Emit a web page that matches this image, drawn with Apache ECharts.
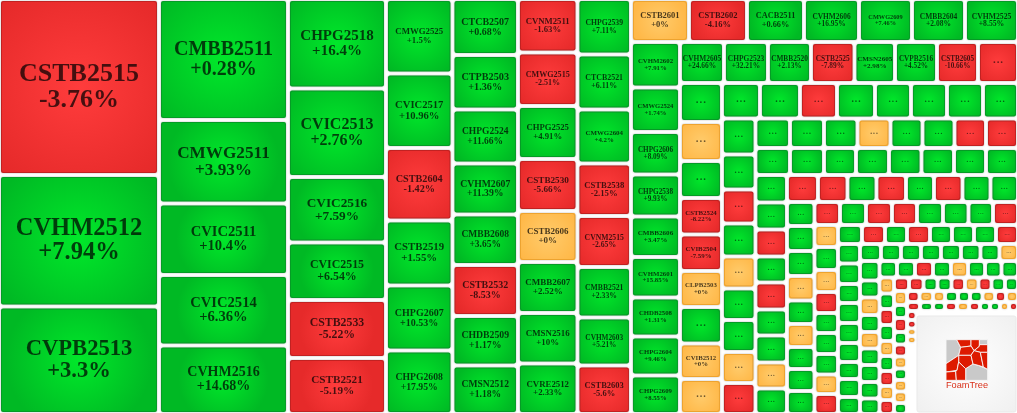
<!DOCTYPE html>
<html><head><meta charset="utf-8">
<style>html,body{margin:0;padding:0;background:#fff}#chart{width:1017px;height:413px}</style>
<script src="https://cdn.jsdelivr.net/npm/echarts@6/dist/echarts.min.js"></script>
</head><body><div id="chart"></div>
<script>
// Cell tone per strip: g = up, r = down, o = unchanged, _ = empty
const tones = ['rgg','ggggg','ggggrr','ggrggg','gggggrgg','rrgroggg','gggrrggr','orggggg','ggggggggg','gggrggrr','gogrrogoo','ggrggggg','ggrgoggor','gggoggrr','gggggggg','ggrgrggog','rrgrgrgg','gggogoggg','rgrrgggr','ogorgggor','grgrgggr','ggggggggg','gggggggo','ggogogggg','ggrgoggg','ogrgogror','rrggrorgg','ogrgrogoog','roogggoro','rggrorggor','rroo_'];
// Names per strip; null or missing = label collapsed to "..."
const names = [
 ['CSTB2515','CVHM2512','CVPB2513'],
 ['CMBB2511','CMWG2511','CVIC2511','CVIC2514','CVHM2516'],
 ['CHPG2518','CVIC2513','CVIC2516','CVIC2515','CSTB2533','CSTB2521'],
 ['CMWG2525','CVIC2517','CSTB2604','CSTB2519','CHPG2607','CHPG2608'],
 ['CTCB2507','CTPB2503','CHPG2524','CVHM2607','CMBB2608','CSTB2532','CHDB2509','CMSN2512'],
 ['CVNM2511','CMWG2515','CHPG2525','CSTB2530','CSTB2606','CMBB2607','CMSN2516','CVRE2512'],
 ['CHPG2539','CTCB2521','CMWG2604','CSTB2538','CVNM2515','CMBB2521','CVHM2603','CSTB2603'],
 ['CSTB2601','CSTB2602','CACB2511','CVHM2606','CMWG2609','CMBB2604','CVHM2525'],
 ['CVHM2602','CMWG2524','CHPG2606','CHPG2538','CMBB2606','CVHM2601','CHDB2508','CHPG2604','CHPG2609'],
 ['CVHM2605','CHPG2523','CMBB2520','CSTB2525','CMSN2605','CVPB2516','CSTB2605'],
 [null,null,null,'CSTB2524','CVIB2504','CLPB2503',null,'CVIB2512']
];
const changes = [
 ['-3.76%','+7.94%','+3.3%'],
 ['+0.28%','+3.93%','+10.4%','+6.36%','+14.68%'],
 ['+16.4%','+2.76%','+7.59%','+6.54%','-5.22%','-5.19%'],
 ['+1.5%','+10.96%','-1.42%','+1.55%','+10.53%','+17.95%'],
 ['+0.68%','+1.36%','+11.66%','+11.39%','+3.65%','-8.53%','+1.17%','+1.18%'],
 ['-1.63%','-2.51%','+4.91%','-5.66%','+0%','+2.52%','+10%','+2.33%'],
 ['+7.11%','+6.11%','+4.2%','-2.15%','-2.65%','+2.33%','+5.21%','-5.6%'],
 ['+0%','-4.16%','+0.66%','+16.95%','+7.46%','+2.08%','+8.55%'],
 ['+7.91%','+1.74%','+8.09%','+9.93%','+3.47%','+15.85%','+1.31%','+9.46%','+8.55%'],
 ['+24.66%','+32.21%','+2.13%','-7.89%','+2.98%','+4.52%','-10.66%'],
 [null,null,null,'-8.22%','-7.59%','+0%',null,'+0%']
];
// Cell weights (estimated tile area) per strip
const weights = [
 [28160,21040,17200],
 [15609,10772,9224,9095,8837],
 [8771,8673,6419,5635,5684,5488],
 [4954,4954,4821,4323,4323,4223],
 [3668,3570,3537,3341,3308,3341,3242,3177],
 [3183,3183,3154,3094,3035,3035,3005,3005],
 [2969,2943,2889,2809,2729,2702,2568,2595],
 [2494,2494,2451,2365,2279,2279,2279],
 [2230,2181,2083,2058,1985,1985,1911,1911,1887],
 [1804,1804,1763,1784,1661,1722,1681,1640],
 [1638,1638,1554,1533,1533,1512,1533,1491,1470],
 [1349,1420,1314,1349,1278,1278,1278,1243],
 [1206,1173,1139,1106,1072,1055,1072,1039,1039],
 [1018,1003,988,974,944,944,929,944],
 [932,918,864,891,878,878,864,864],
 [866,851,851,819,851,819,851,819,803],
 [837,797,783,797,756,770,756,743],
 [660,688,688,674,646,633,605,605,633],
 [587,598,598,575,598,587,564,575],
 [517,541,517,494,470,494,482,458,470],
 [456,437,418,437,418,418,418,418],
 [429,451,418,440,440,418,374,396,374],
 [357,340,340,340,340,332,323,315],
 [380,332,341,332,322,322,332,322,302],
 [289,297,297,297,281,281,272,272],
 [232,225,232,232,218,218,218,203,203],
 [203,196,189,189,182,182,176,182,176],
 [182,169,182,163,156,156,150,150,150,143],
 [138,149,132,143,132,138,138,121,132],
 [117,117,108,108,108,99,90,90,81,81],
 [86,81,71,76,665]
];
const logoAreaWeight = 10454;

// ---- styles ----
const labelPx = {CSTB2515:26,CVHM2512:24.5,CVPB2513:22.6,CMBB2511:20,CMWG2511:17.2,CVIC2511:14.6,CVIC2514:14.6,CVHM2516:14,CHPG2518:15,CVIC2513:16,CVIC2516:13.3,CVIC2515:11.9,CSTB2533:11.8,CSTB2521:11.2,
 CMWG2525:8.8,CVIC2517:10.6,CSTB2604:10.2,CSTB2519:10.8,CHPG2607:10,CHPG2608:9.7,CTCB2507:10,CTPB2503:10.2,CHPG2524:9.5,CVHM2607:9.7,CMBB2608:9.5,CSTB2532:10,CHDB2509:9.75,CMSN2512:9.6,
 CVNM2511:8.7,CMWG2515:8.1,CHPG2525:8.7,CSTB2530:9.2,CSTB2606:9,CMBB2607:9,CMSN2516:8.9,CVRE2512:8.8,CHPG2539:7.7,CTCB2521:7.9,CMWG2604:6.9,CSTB2538:8.7,CVNM2515:7.7,CMBB2521:7.7,CVHM2603:7.3,CSTB2603:8.5,
 CSTB2601:8.5,CSTB2602:8.5,CACB2511:8.3,CVHM2606:7.4,CMWG2609:6.3,CMBB2604:7.5,CVHM2525:7.7,CVHM2602:6.8,CMWG2524:6.6,CHPG2606:7.2,CHPG2538:7.2,CMBB2606:7.1,CVHM2601:6.8,CHDB2508:6.75,CHPG2604:6.7,CHPG2609:6.7};
const palette = {
 g:{inner:'#00e82a',outer:'#00b924',edge:'#00a524'},
 r:{inner:'#ff3c3c',outer:'#e62a2a',edge:'#cf1f1f'},
 o:{inner:'#ffcb6b',outer:'#ffb848',edge:'#ffad2e'}
};
const FONT = '"Liberation Serif","Times New Roman",serif';

function radial(c){return {type:'radial',x:.5,y:.5,r:.72,colorStops:[{offset:0,color:c.inner},{offset:1,color:c.outer}]};}
function leaf(s,i){
  const tone=tones[s][i], w=weights[s][i];
  if(tone==='_') return blank(w);
  const c=palette[tone], nm=(names[s]||[])[i], ch=(changes[s]||[])[i], root=Math.sqrt(w);
  const labelled=!!nm;
  const px=labelled?(labelPx[nm]||0.175*root):0.37*root;
  return {
    name:nm||'...', value:w, labelText: labelled?nm+'\n'+ch:(root<12?'':'...'),
    itemStyle:{color:radial(c),borderColor:c.edge,borderWidth:1,borderRadius:2,shadowBlur:2,shadowColor:'rgba(60,60,60,0.35)'},
    label:labelled?{fontSize:px,lineHeight:px,fontWeight:'bold'}
                  :{fontSize:px,lineHeight:px,fontWeight:'normal',color:'rgba(0,0,0,0.58)',offset:[0,-px*0.2]}
  };
}
function blank(w){return {name:'',value:w,labelText:'',itemStyle:{color:'rgba(255,255,255,0)',borderColor:'rgba(255,255,255,0)',borderWidth:0},label:{show:false}};}
// Every strip goes along the short side of what remains, so a chain of two-child groups reproduces the reading order.
let rest=blank(logoAreaWeight);
for(let s=tones.length-1;s>=0;s--){
  const kids=[...tones[s]].map((_,i)=>leaf(s,i));
  rest={name:'',children:[{name:'',children:kids},rest]};
}

// FoamTree attribution badge, in a local frame of 3 units per pixel
const logoGrey=[[[93,83],[125,83],[137,106],[131,130],[93,155]],[[193,83],[218,83],[218,98],[193,98]],[[152,170],[174,156],[190,160],[218,172],[218,205],[152,205]]];
const logoRed=[[[125,83],[168,83],[168,102],[137,106]],[[168,83],[193,83],[193,103],[177,116],[168,102]],[[193,98],[218,98],[218,121],[196,121],[177,116],[193,103]],[[137,106],[168,102],[177,116],[168,130],[131,130]],[[131,130],[168,130],[174,156],[152,170],[131,150]],[[177,116],[196,121],[205,165],[190,160],[174,156],[168,130]],[[196,121],[218,121],[218,172],[205,165]],[[93,155],[131,130],[131,150],[126,175],[93,180]],[[93,180],[122,178],[124,205],[93,205]],[[131,150],[152,170],[152,205],[124,205],[122,178],[126,175]]];
const poly=(p,fill)=>({type:'polygon',shape:{points:p.map(q=>[915+q[0]/3,312+q[1]/3])},style:{fill,stroke:'#f6f6f6',lineWidth:0.9}});

const chart=echarts.init(document.getElementById('chart'));
chart.setOption({
  animation:false,
  tooltip:{show:false},
  series:[{
    type:'treemap',left:1,top:1,right:1,bottom:1,
    squareRatio:1,sort:false,roam:false,nodeClick:false,silent:true,
    visibleMin:0,childrenVisibleMin:0,
    breadcrumb:{show:false},
    itemStyle:{gapWidth:4,borderWidth:0,borderColor:'rgba(255,255,255,0)'},
    label:{show:true,position:'inside',padding:0,distance:0,overflow:'none',align:'center',verticalAlign:'middle',
      fontFamily:FONT,color:'rgba(0,0,0,0.72)',formatter:p=>p.data.labelText},
    upperLabel:{show:false},
    emphasis:{disabled:true},
    data:rest.children
  }],
  graphic:[{type:'group',silent:true,z:100,children:[
    {type:'rect',shape:{x:917,y:316,width:99,height:96,r:2},
     style:{fill:{type:'radial',x:.5,y:.5,r:.75,colorStops:[{offset:0,color:'#ffffff'},{offset:1,color:'#efefef'}]},stroke:'#e9e9e9',lineWidth:1}},
    ...logoGrey.map(p=>poly(p,'#c9c9c9')),
    ...logoRed.map(p=>poly(p,'#dd1a00')),
    {type:'text',x:967,y:385,style:{text:'FoamTree',font:'9.2px "Liberation Sans",Arial,sans-serif',fill:'#d9301a',align:'center',verticalAlign:'middle'}}
  ]}]
});
</script></body></html>
